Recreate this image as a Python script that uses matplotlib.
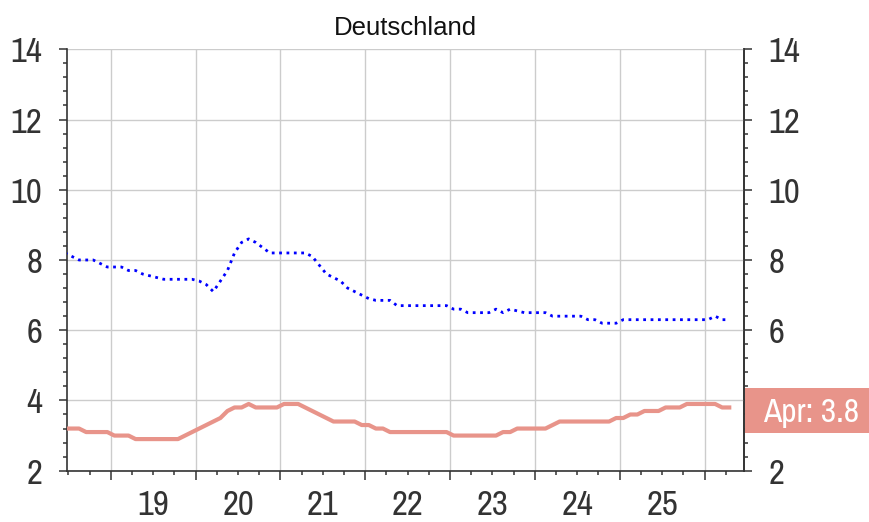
import matplotlib
matplotlib.use("Agg")
import matplotlib.pyplot as plt
import matplotlib.transforms as mtransforms
from matplotlib import font_manager
from matplotlib.font_manager import FontProperties
from matplotlib.patches import Rectangle
from matplotlib.ticker import MultipleLocator, NullFormatter
import numpy as np
import pandas as pd

# Monatswerte Jun 2018 .. Apr 2026
start_month = "2018-06"
end_month = "2026-04"

germany = [
    3.2, 3.2, 3.2, 3.1, 3.1, 3.1, 3.1,
    3.0, 3.0, 3.0, 2.9, 2.9, 2.9, 2.9, 2.9, 2.9, 2.9, 3.0, 3.1,
    3.2, 3.3, 3.4, 3.5, 3.7, 3.8, 3.8, 3.9, 3.8, 3.8, 3.8, 3.8,
    3.9, 3.9, 3.9, 3.8, 3.7, 3.6, 3.5, 3.4, 3.4, 3.4, 3.4, 3.3,
    3.3, 3.2, 3.2, 3.1, 3.1, 3.1, 3.1, 3.1, 3.1, 3.1, 3.1, 3.1,
    3.0, 3.0, 3.0, 3.0, 3.0, 3.0, 3.0, 3.1, 3.1, 3.2, 3.2, 3.2,
    3.2, 3.2, 3.3, 3.4, 3.4, 3.4, 3.4, 3.4, 3.4, 3.4, 3.4, 3.5,
    3.5, 3.6, 3.6, 3.7, 3.7, 3.7, 3.8, 3.8, 3.8, 3.9, 3.9, 3.9,
    3.9, 3.9, 3.8, 3.8,
]

euro_area = [
    8.2, 8.1, 8.0, 8.0, 8.0, 7.9, 7.8,
    7.8, 7.8, 7.7, 7.7, 7.6, 7.55, 7.5, 7.45, 7.45, 7.45, 7.45, 7.45,
    7.4, 7.3, 7.1, 7.4, 7.7, 8.2, 8.5, 8.6, 8.5, 8.35, 8.2, 8.2,
    8.2, 8.2, 8.2, 8.2, 8.1, 7.85, 7.6, 7.5, 7.4, 7.2, 7.1, 7.0,
    6.9, 6.85, 6.85, 6.85, 6.7, 6.7, 6.7, 6.7, 6.7, 6.7, 6.7, 6.7,
    6.6, 6.6, 6.5, 6.5, 6.5, 6.5, 6.6, 6.5, 6.6, 6.55, 6.5, 6.5,
    6.5, 6.5, 6.4, 6.4, 6.4, 6.4, 6.4, 6.3, 6.3, 6.2, 6.2, 6.2,
    6.3, 6.3, 6.3, 6.3, 6.3, 6.3, 6.3, 6.3, 6.3, 6.3, 6.3, 6.3,
    6.3, 6.4, 6.3, 6.3,
]

year_labels = ["19", "20", "21", "22", "23", "24", "25"]
title = "Deutschland"
last_label = "Apr: 3.8"

red = "#e8948a"
blue = "#0000ff"
dark = "#333333"


def find_narrow_font():
    # schmale Sans-Schrift suchen (wie Arial Narrow im Original)
    best = None
    for f in font_manager.fontManager.ttflist:
        n = f.name
        if f.style != "normal" or "Mono" in n or "Serif" in n:
            continue
        w = f.weight if isinstance(f.weight, int) else font_manager.weight_dict.get(f.weight, 400)
        if w != 400:
            continue
        st = str(f.stretch)
        if "Narrow" in n:
            score = 0
        elif st == "condensed" or ("Condensed" in n and "Semi" not in n and "Extra" not in n):
            score = 1
        elif st == "semi-condensed" or "SemiCondensed" in n.replace(" ", ""):
            score = 2
        else:
            continue
        if best is None or score < best[0]:
            best = (score, f.fname)
    return best[1] if best else None


narrow_path = find_narrow_font()
if narrow_path:
    tick_fp = FontProperties(fname=narrow_path, size=25)
    label_fp = FontProperties(fname=narrow_path, size=24)
else:
    tick_fp = FontProperties(family="Liberation Sans", size=21)
    label_fp = FontProperties(family="Liberation Sans", size=19)

months = pd.period_range(start_month, end_month, freq="M")
x = months.year + (months.month - 0.5) / 12

fig = plt.figure(figsize=(8.69, 5.22), dpi=100)
ax = fig.add_axes([0.0768, 0.0983, 0.7788, 0.8073])

ax.plot(x, euro_area, color=blue, lw=2.0, ls=":", zorder=3)
ax.plot(x, germany, color=red, lw=3, solid_joinstyle="round", zorder=3)

ax.set_xlim(2018.48, 2026.46)
ax.set_ylim(2, 14)
ax.xaxis.set_major_locator(MultipleLocator(1))
ax.xaxis.set_minor_locator(MultipleLocator(0.25))
ax.xaxis.set_major_formatter(NullFormatter())
ax.yaxis.set_major_locator(MultipleLocator(2))
ax.yaxis.set_minor_locator(MultipleLocator(0.4))

ax.grid(which="major", color="#cccccc", lw=1, zorder=0)
ax.set_axisbelow(True)

for s in ["left", "right", "bottom"]:
    ax.spines[s].set_color(dark)
    ax.spines[s].set_linewidth(1.2)
ax.spines["top"].set_visible(False)

ax.tick_params(axis="y", which="both", left=True, right=False,
               labelleft=True, labelright=False, direction="out",
               color=dark, labelcolor=dark, width=1.1)
ax.tick_params(axis="y", which="major", length=5.8, pad=12)
ax.tick_params(axis="y", which="minor", length=3)
ax.tick_params(axis="x", which="both", bottom=True, top=False,
               direction="out", color=dark, width=1.1)
ax.tick_params(axis="x", which="major", length=6.5)
ax.tick_params(axis="x", which="minor", length=3)
for lab in ax.get_yticklabels():
    lab.set_fontproperties(tick_fp)

# rechte Skala; die "4" liegt unter dem Wertlabel
right_major = np.arange(2, 14.01, 2)
sec = ax.secondary_yaxis("right")
sec.set_yticks(right_major,
               ["" if v == 4 else f"{v:g}" for v in right_major])
sec.set_yticks(np.arange(2, 14.01, 0.4), minor=True)
sec.spines["right"].set_color(dark)
sec.spines["right"].set_linewidth(1.2)
sec.tick_params(which="both", direction="out", color=dark,
                labelcolor=dark, width=1.1)
sec.tick_params(which="major", length=5.8, pad=12)
sec.tick_params(which="minor", length=3)
for lab in sec.get_yticklabels():
    lab.set_fontproperties(tick_fp)

for lab in year_labels:
    ax.annotate(lab, xy=(2000 + int(lab) + 0.5, 0),
                xycoords=("data", "axes fraction"),
                xytext=(0, -24.5), textcoords="offset points",
                ha="center", va="center", fontproperties=tick_fp,
                color=dark)

ax.set_title(title, fontsize=18.5, family="Liberation Sans",
             color="#111111", pad=10)

# Wertlabel rechts neben der Achse
box_tr = mtransforms.blended_transform_factory(ax.transAxes, ax.transData) + \
    mtransforms.ScaledTranslation(0.015, -0.03, fig.dpi_scale_trans)
ax.add_patch(Rectangle((1.0, germany[-1] - 0.645), 0.3, 1.29,
                       transform=box_tr, facecolor=red, edgecolor="none",
                       clip_on=False, zorder=5))
txt_tr = mtransforms.blended_transform_factory(ax.transAxes, ax.transData) + \
    mtransforms.ScaledTranslation(0.195, -0.145, fig.dpi_scale_trans)
ax.text(1.0, germany[-1], last_label, transform=txt_tr, ha="left",
        va="baseline", color="white", fontproperties=label_fp,
        zorder=6, clip_on=False)

fig.savefig("out.png", dpi=100)
